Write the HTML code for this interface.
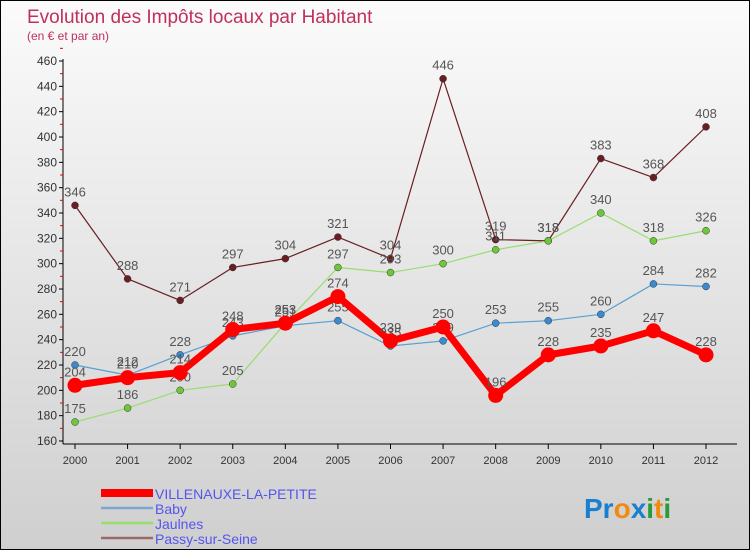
<!DOCTYPE html>
<html><head><meta charset="utf-8"><style>
body{margin:0;width:750px;height:550px;overflow:hidden;font-family:"Liberation Sans",sans-serif}
#wrap{position:absolute;left:0;top:0;width:748px;height:548px;border:1px solid #000;background:linear-gradient(#fbfbfb,#cfcfcf)}
</style></head><body>
<div id="wrap">
<svg id="chart" width="748" height="548" style="position:absolute;left:0;top:0">
<text x="26" y="22" font-size="19" fill="#c0305a">Evolution des Impôts locaux par Habitant</text>
<text x="26" y="39" font-size="12" fill="#c0305a">(en € et par an)</text>
<g id="axes"></g><g id="series"></g><g id="legend"></g>
<text x="583" y="517" font-size="28" font-weight="bold"><tspan fill="#1a7fd0">Pr</tspan><tspan fill="#f08a10">o</tspan><tspan fill="#1a7fd0">x</tspan><tspan fill="#2a9a3a">i</tspan><tspan fill="#f08a10">t</tspan><tspan fill="#2a9a3a">i</tspan></text>
</svg></div>
<script>
const years=[2000,2001,2002,2003,2004,2005,2006,2007,2008,2009,2010,2011,2012];
const yTicks=[160,180,200,220,240,260,280,300,320,340,360,380,400,420,440,460];
const villenauxe=[204,210,214,248,253,274,239,250,196,228,235,247,228];
const baby=[220,212,228,243,251,255,235,239,253,255,260,284,282];
const jaulnes=[175,186,200,205,253,297,293,300,311,318,340,318,326];
const passy=[346,288,271,297,304,321,304,446,319,318,383,368,408];
const names=["VILLENAUXE-LA-PETITE","Baby","Jaulnes","Passy-sur-Seine"];
const NS="http://www.w3.org/2000/svg";
const x=i=>74+i*(705-74)/12;
const y=v=>440-(v-160)*(440-60)/300;
function mk(t,a,p){const e=document.createElementNS(NS,t);for(const k in a)e.setAttribute(k,a[k]);p.appendChild(e);return e;}
const ax=document.getElementById('axes');
let l=mk('line',{x1:62,y1:58,x2:62,y2:443,stroke:'#000'},ax);


l=mk('line',{x1:62,y1:443,x2:736,y2:443,stroke:'#000'},ax);


yTicks.forEach(v=>{mk('line',{x1:58,x2:62,y1:y(v),y2:y(v),stroke:'#000'},ax);
mk('line',{x1:59,x2:62,y1:y(v+10),y2:y(v+10),stroke:'#e00'},ax);
const t=mk('text',{x:56,y:y(v)+4,'font-size':12,'text-anchor':'end',fill:'#333'},ax);t.textContent=v;

});
years.forEach((yr,i)=>{mk('line',{x1:x(i),x2:x(i),y1:443,y2:448,stroke:'#000'},ax);
const t=mk('text',{x:x(i),y:463,'font-size':11,'text-anchor':'middle',fill:'#333'},ax);t.textContent=yr;

});
const sg=document.getElementById('series');
const defs=[[passy,'#6a1e22','#6a1e22',1.2,3.5,'passy'],[jaulnes,'#98dd70','#6cc83a',1.2,3.5,'jaulnes'],[baby,'#5aa0d0','#3a8ad0',1.2,3.5,'baby'],[villenauxe,'#ff0000','#ff0000',7,7.5,'villenauxe']];
defs.forEach(([d,c,fc,w,r,n])=>{
const p=mk('polyline',{points:d.map((v,i)=>x(i)+','+y(v)).join(' '),fill:'none',stroke:c,'stroke-width':w,'stroke-linejoin':'round'},sg);


d.forEach((v,i)=>{const cc=mk('circle',{cx:x(i),cy:y(v),r:r,fill:fc,stroke:n=='villenauxe'?'none':'#333','stroke-width':0.5},sg);


const t=mk('text',{x:x(i),y:y(v)-9,'font-size':13,'text-anchor':'middle',fill:'#555'},sg);t.textContent=v;

});});
const lg=document.getElementById('legend');
const lc=[['#ff0000',8],['#7aa8d0',2.5],['#98dd70',2.5],['#9a6a6a',2.5]];
names.forEach((n,i)=>{const yy=492+i*15;
const s=mk('line',{x1:100,x2:152,y1:yy,y2:yy,stroke:lc[i][0],'stroke-width':lc[i][1]},lg);


const t=mk('text',{x:154,y:yy+6,'font-size':14,fill:'#5555ee'},lg);t.textContent=n;

});
</script></body></html>
